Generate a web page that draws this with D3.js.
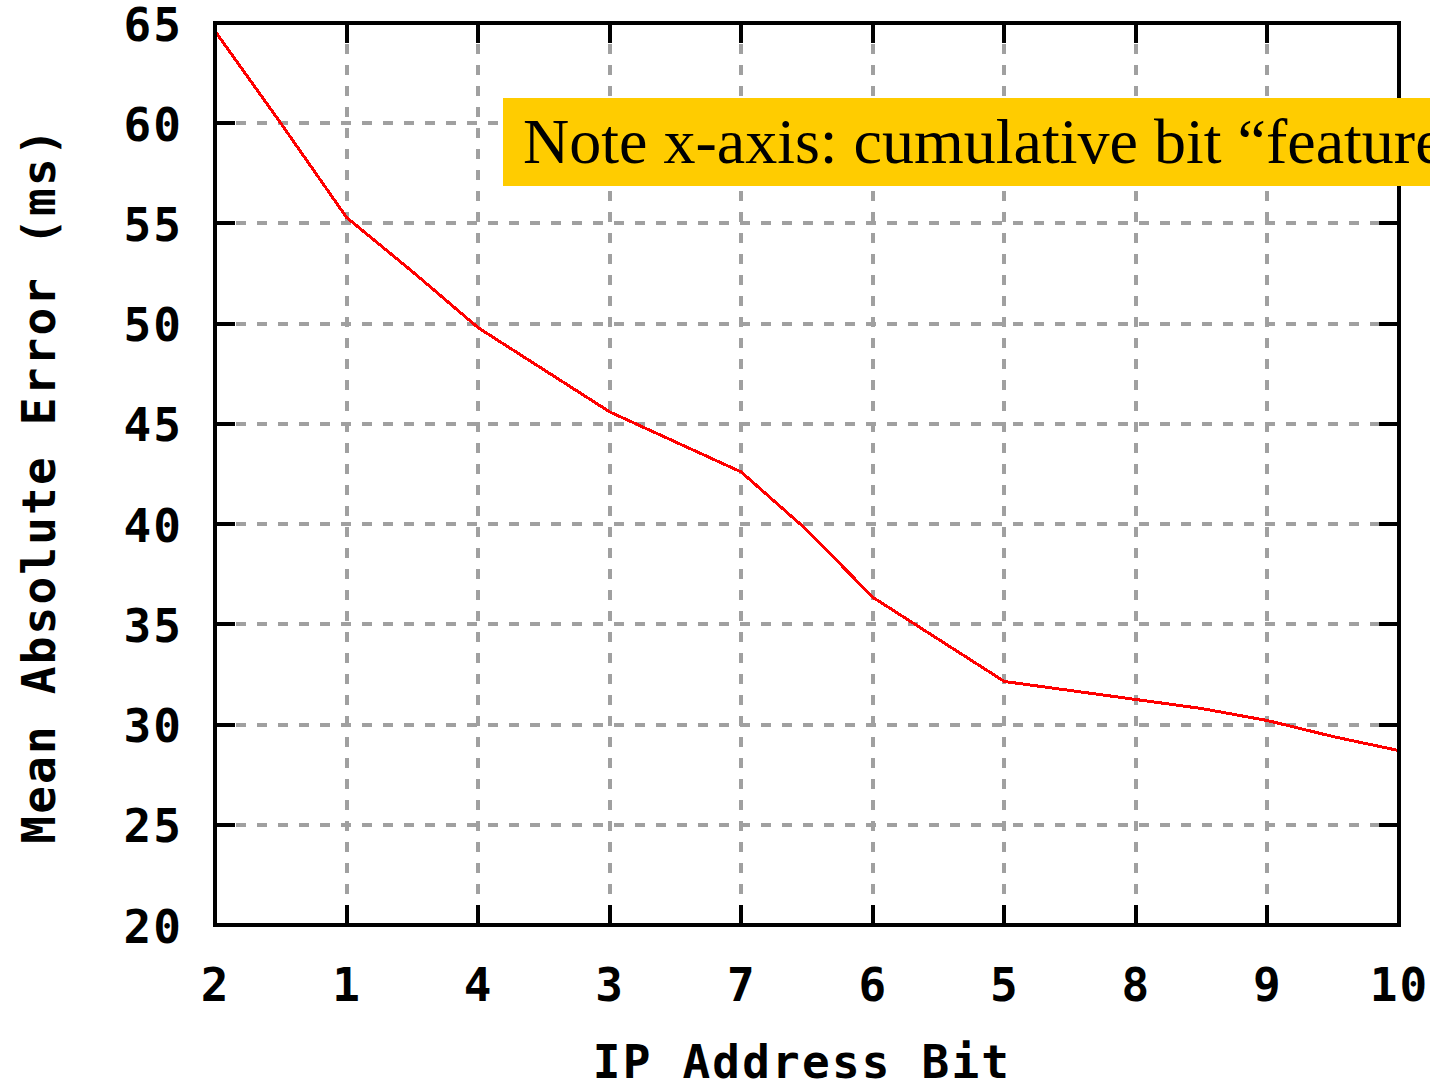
<!DOCTYPE html>
<html>
<head>
<meta charset="utf-8">
<script src="https://cdn.jsdelivr.net/npm/d3@7/dist/d3.min.js"></script>
<style>
  html, body { margin: 0; padding: 0; background: #ffffff; }
  svg { display: block; }
</style>
</head>
<body>
<svg id="chart" width="1430" height="1086"></svg>
<script>
// Order in which address bits are added as features (x-axis categories)
const bitLabels = ["2", "1", "4", "3", "7", "6", "5", "8", "9", "10"];
// Y-axis ticks (ms)
const yTicks = [20, 25, 30, 35, 40, 45, 50, 55, 60, 65];
// Sample positions along the cumulative-bit axis (category index)
const stepPos = [0, 0.5, 1, 1.5, 2, 2.5, 3, 3.5, 4, 4.5, 5, 5.5, 6, 6.5, 7, 7.5, 8, 8.5, 9];
// Mean absolute error at each sample position (ms)
const maeValues = [64.6, 60.0, 55.3, 52.6, 49.8, 47.7, 45.6, 44.1, 42.6, 39.7, 36.35, 34.25, 32.15, 31.7, 31.25, 30.8, 30.2, 29.4, 28.7];

const noteText = "Note x-axis: cumulative bit \u201cfeatures\u201d";
const xTitle = "IP Address Bit";
const yTitle = "Mean Absolute Error (ms)";

const svg = d3.select("#chart");
const W = 1430, H = 1086;
const plot = { left: 215, right: 1399, top: 23, bottom: 925 };

svg.append("rect").attr("width", W).attr("height", H).attr("fill", "#ffffff");

const x = d3.scaleLinear().domain([0, bitLabels.length - 1]).range([plot.left, plot.right]);
const y = d3.scaleLinear().domain([20, 65]).range([plot.bottom, plot.top]);

const gridColor = "#a0a0a0";
const tickLen = 20;
const monoFont = "'DejaVu Sans Mono', 'Liberation Mono', monospace";

// Dashed grid
const grid = svg.append("g").attr("shape-rendering", "crispEdges");
grid.selectAll("line.hg")
  .data(yTicks.filter(v => v > 20 && v < 65))
  .join("line")
  .attr("x1", plot.left).attr("x2", plot.right)
  .attr("y1", d => y(d)).attr("y2", d => y(d))
  .attr("stroke", gridColor).attr("stroke-width", 4)
  .attr("stroke-dasharray", "10 11");
grid.selectAll("line.vg")
  .data(d3.range(1, bitLabels.length - 1))
  .join("line")
  .attr("x1", d => x(d)).attr("x2", d => x(d))
  .attr("y1", plot.top).attr("y2", plot.bottom)
  .attr("stroke", gridColor).attr("stroke-width", 4)
  .attr("stroke-dasharray", "10 11");

// Error curve
svg.append("clipPath").attr("id", "plotclip")
  .append("rect")
  .attr("x", plot.left).attr("y", plot.top)
  .attr("width", plot.right - plot.left).attr("height", plot.bottom - plot.top);

const line = d3.line()
  .x((d, i) => x(stepPos[i]))
  .y(d => y(d));

svg.append("path")
  .datum(maeValues)
  .attr("clip-path", "url(#plotclip)")
  .attr("d", line)
  .attr("fill", "none")
  .attr("stroke", "#ff0000")
  .attr("stroke-width", 3)
  .attr("shape-rendering", "crispEdges");

// Ticks, mirrored on all four sides
const ticks = svg.append("g").attr("shape-rendering", "crispEdges")
  .attr("stroke", "#000000").attr("stroke-width", 4);
yTicks.forEach(v => {
  ticks.append("line").attr("x1", plot.left).attr("x2", plot.left + tickLen)
    .attr("y1", y(v)).attr("y2", y(v));
  ticks.append("line").attr("x1", plot.right - tickLen).attr("x2", plot.right)
    .attr("y1", y(v)).attr("y2", y(v));
});
bitLabels.forEach((b, i) => {
  ticks.append("line").attr("x1", x(i)).attr("x2", x(i))
    .attr("y1", plot.bottom).attr("y2", plot.bottom - tickLen);
  ticks.append("line").attr("x1", x(i)).attr("x2", x(i))
    .attr("y1", plot.top).attr("y2", plot.top + tickLen);
});

// Frame
svg.append("rect")
  .attr("x", plot.left).attr("y", plot.top)
  .attr("width", plot.right - plot.left).attr("height", plot.bottom - plot.top)
  .attr("fill", "none").attr("stroke", "#000000").attr("stroke-width", 4)
  .attr("shape-rendering", "crispEdges");

// Axis labels
const yAxis = d3.axisLeft(y).tickValues(yTicks).tickSize(0).tickPadding(0);
const xAxis = d3.axisBottom(x).tickValues(d3.range(bitLabels.length))
  .tickFormat(i => bitLabels[i]).tickSize(0).tickPadding(0);

const gy = svg.append("g").attr("transform", `translate(${183},0)`).call(yAxis);
gy.select(".domain").remove();
gy.selectAll("text")
  .attr("x", 0).attr("dy", null).attr("y", 17)
  .attr("text-anchor", "end")
  .style("font-family", monoFont).style("font-weight", "bold")
  .style("font-size", "46px").style("letter-spacing", "2px")
  .attr("fill", "#000000");

const gx = svg.append("g").attr("transform", `translate(0,${1001})`).call(xAxis);
gx.select(".domain").remove();
gx.selectAll("text")
  .attr("y", 0).attr("dy", null)
  .attr("text-anchor", "middle")
  .style("font-family", monoFont).style("font-weight", "bold")
  .style("font-size", "46px").style("letter-spacing", "2px")
  .attr("fill", "#000000");

// Axis titles
svg.append("text")
  .attr("x", 802).attr("y", 1078)
  .attr("text-anchor", "middle")
  .style("font-family", monoFont).style("font-weight", "bold")
  .style("font-size", "46px").style("letter-spacing", "2.2px")
  .text(xTitle);

svg.append("text")
  .attr("transform", "translate(55,485) rotate(-90)")
  .attr("text-anchor", "middle")
  .style("font-family", monoFont).style("font-weight", "bold")
  .style("font-size", "46px").style("letter-spacing", "2.2px")
  .text(yTitle);

// Annotation box
svg.append("rect")
  .attr("x", 503).attr("y", 98)
  .attr("width", 1000).attr("height", 88)
  .attr("fill", "#ffcc00");
svg.append("text")
  .attr("x", 523).attr("y", 163)
  .style("font-family", "'Liberation Serif', 'Times New Roman', serif")
  .style("font-size", "64px")
  .attr("fill", "#000000")
  .text(noteText);
</script>
</body>
</html>
